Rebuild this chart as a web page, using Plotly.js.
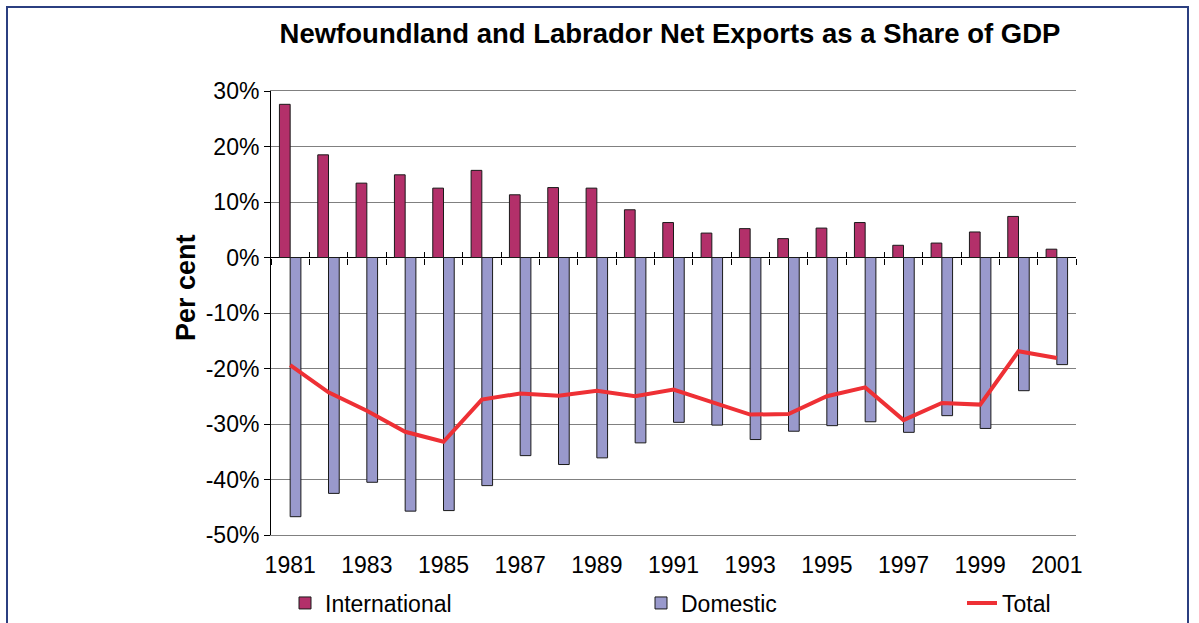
<!DOCTYPE html>
<html>
<head>
<meta charset="utf-8">
<script src="https://cdn.plot.ly/plotly-3.0.1.min.js"></script>
<style>
  html, body { margin: 0; padding: 0; background: #fff; overflow: hidden; }
  #wrap { position: relative; width: 1199px; height: 623px; }
  #chart { width: 1199px; height: 623px; }
  #frame { position: absolute; left: 6px; top: 6px; width: 1183px; height: 700px;
           border: 2px solid #2B3F80; pointer-events: none; box-sizing: border-box; }
</style>
</head>
<body>
<div id="wrap">
  <div id="chart"></div>
  <div id="frame"></div>
</div>
<script>
const years = [1981,1982,1983,1984,1985,1986,1987,1988,1989,1990,1991,1992,1993,1994,1995,1996,1997,1998,1999,2000,2001];
const international = [27.6,18.5,13.4,14.9,12.5,15.7,11.3,12.6,12.5,8.6,6.3,4.4,5.2,3.4,5.3,6.3,2.2,2.6,4.6,7.4,1.5];
const domestic = [-46.7,-42.5,-40.5,-45.7,-45.6,-41.1,-35.7,-37.3,-36.1,-33.4,-29.7,-30.2,-32.8,-31.3,-30.3,-29.6,-31.5,-28.5,-30.8,-24.0,-19.3];
const total = [-19.4,-24.3,-27.6,-31.4,-33.2,-25.6,-24.5,-24.9,-24.0,-25.0,-23.8,-26.1,-28.3,-28.2,-25.0,-23.4,-29.3,-26.2,-26.5,-16.9,-18.1];
const tickYears = years.filter(y => y % 2 === 1);
const yTicks = [30,20,10,0,-10,-20,-30,-40,-50];

const FONT = 'Arial, "Liberation Sans", sans-serif';
const xRange = [years[0] - 0.5, years[years.length - 1] + 0.5];
const boundaries = years.map(y => y - 0.5).concat([years[years.length - 1] + 0.5]);
const yRange = [-50, 30];
const zeroPos = (0 - yRange[0]) / (yRange[1] - yRange[0]);

const traces = [
  { type: 'bar', name: 'International', x: years, y: international,
    marker: { color: '#B3306A', line: { color: '#1a1a1a', width: 1 } },
    legend: 'legend', hoverinfo: 'x+y' },
  { type: 'bar', name: 'Domestic', x: years, y: domestic,
    marker: { color: '#9999CC', line: { color: '#1a1a1a', width: 1 } },
    legend: 'legend2', hoverinfo: 'x+y' },
  { type: 'scatter', mode: 'lines', name: 'Total', x: years, y: total,
    line: { color: '#EE3035', width: 4 },
    legend: 'legend3', hoverinfo: 'x+y' },
  { type: 'scatter', mode: 'lines', x: years, y: total, xaxis: 'x2', yaxis: 'y',
    opacity: 0, showlegend: false, hoverinfo: 'skip' },
  { type: 'scatter', mode: 'lines', x: years, y: total, xaxis: 'x3', yaxis: 'y',
    opacity: 0, showlegend: false, hoverinfo: 'skip' }
];

const legendBase = {
  orientation: 'h', xref: 'container', yref: 'container',
  yanchor: 'middle', xanchor: 'left', y: 1 - 603 / 623,
  font: { family: FONT, size: 23, color: '#000' },
  bgcolor: 'rgba(0,0,0,0)', borderwidth: 0
};

const layout = {
  width: 1199, height: 623,
  margin: { l: 271, r: 123, t: 91, b: 88 },
  paper_bgcolor: '#fff', plot_bgcolor: '#fff',
  barmode: 'group', bargap: 0.44, bargroupgap: 0,
  font: { family: FONT, color: '#000' },
  title: {
    text: 'Newfoundland and Labrador Net Exports as a Share of GDP',
    font: { family: FONT, size: 27.5, weight: 'bold', color: '#000' },
    xref: 'container', yref: 'container', x: 670 / 1199, xanchor: 'center',
    y: 1 - 33 / 623, yanchor: 'middle'
  },
  xaxis: {
    range: xRange, tickmode: 'array', tickvals: tickYears, ticktext: tickYears.map(String),
    ticks: '', showgrid: false, zeroline: false,
    showline: true, mirror: true, linecolor: '#808080', linewidth: 1,
    tickfont: { family: FONT, size: 23, color: '#000' }, ticklabelstandoff: 9
  },
  xaxis2: {
    overlaying: 'x', anchor: 'free', position: zeroPos, side: 'bottom',
    range: xRange, tickmode: 'array', tickvals: boundaries,
    ticks: 'outside', ticklen: 6, tickcolor: '#000', tickwidth: 1,
    showticklabels: false, showgrid: false, zeroline: false, showline: false
  },
  xaxis3: {
    overlaying: 'x', anchor: 'free', position: zeroPos, side: 'bottom',
    range: xRange, tickmode: 'array', tickvals: boundaries,
    ticks: 'inside', ticklen: 6, tickcolor: '#000', tickwidth: 1,
    showticklabels: false, showgrid: false, zeroline: false, showline: false
  },
  yaxis: {
    range: yRange, tickmode: 'array', tickvals: yTicks, ticktext: yTicks.map(v => v + '%'),
    ticks: 'outside', ticklen: 6, tickcolor: '#000',
    showline: true, linecolor: '#000', linewidth: 1,
    showgrid: true, gridcolor: '#808080', gridwidth: 1,
    zeroline: true, zerolinecolor: '#000', zerolinewidth: 1,
    tickfont: { family: FONT, size: 23, color: '#000' }
  },
  yaxis2: {
    overlaying: 'y', side: 'right', range: yRange,
    showline: true, linecolor: '#808080', linewidth: 1,
    showticklabels: false, ticks: '', showgrid: false, zeroline: false
  },
  legend: Object.assign({}, legendBase, { x: 285 / 1199 }),
  legend2: Object.assign({}, legendBase, { x: 641 / 1199 }),
  legend3: Object.assign({}, legendBase, { x: 962 / 1199 }),
  annotations: [{
    text: 'Per cent', textangle: -90, showarrow: false,
    xref: 'paper', yref: 'paper',
    x: (186 - 271) / 805, y: (535 - 288) / 444,
    xanchor: 'center', yanchor: 'middle',
    font: { family: FONT, size: 27, weight: 'bold', color: '#000' }
  }]
};

Plotly.newPlot('chart', traces, layout, { displayModeBar: false, staticPlot: true });
</script>
</body>
</html>
